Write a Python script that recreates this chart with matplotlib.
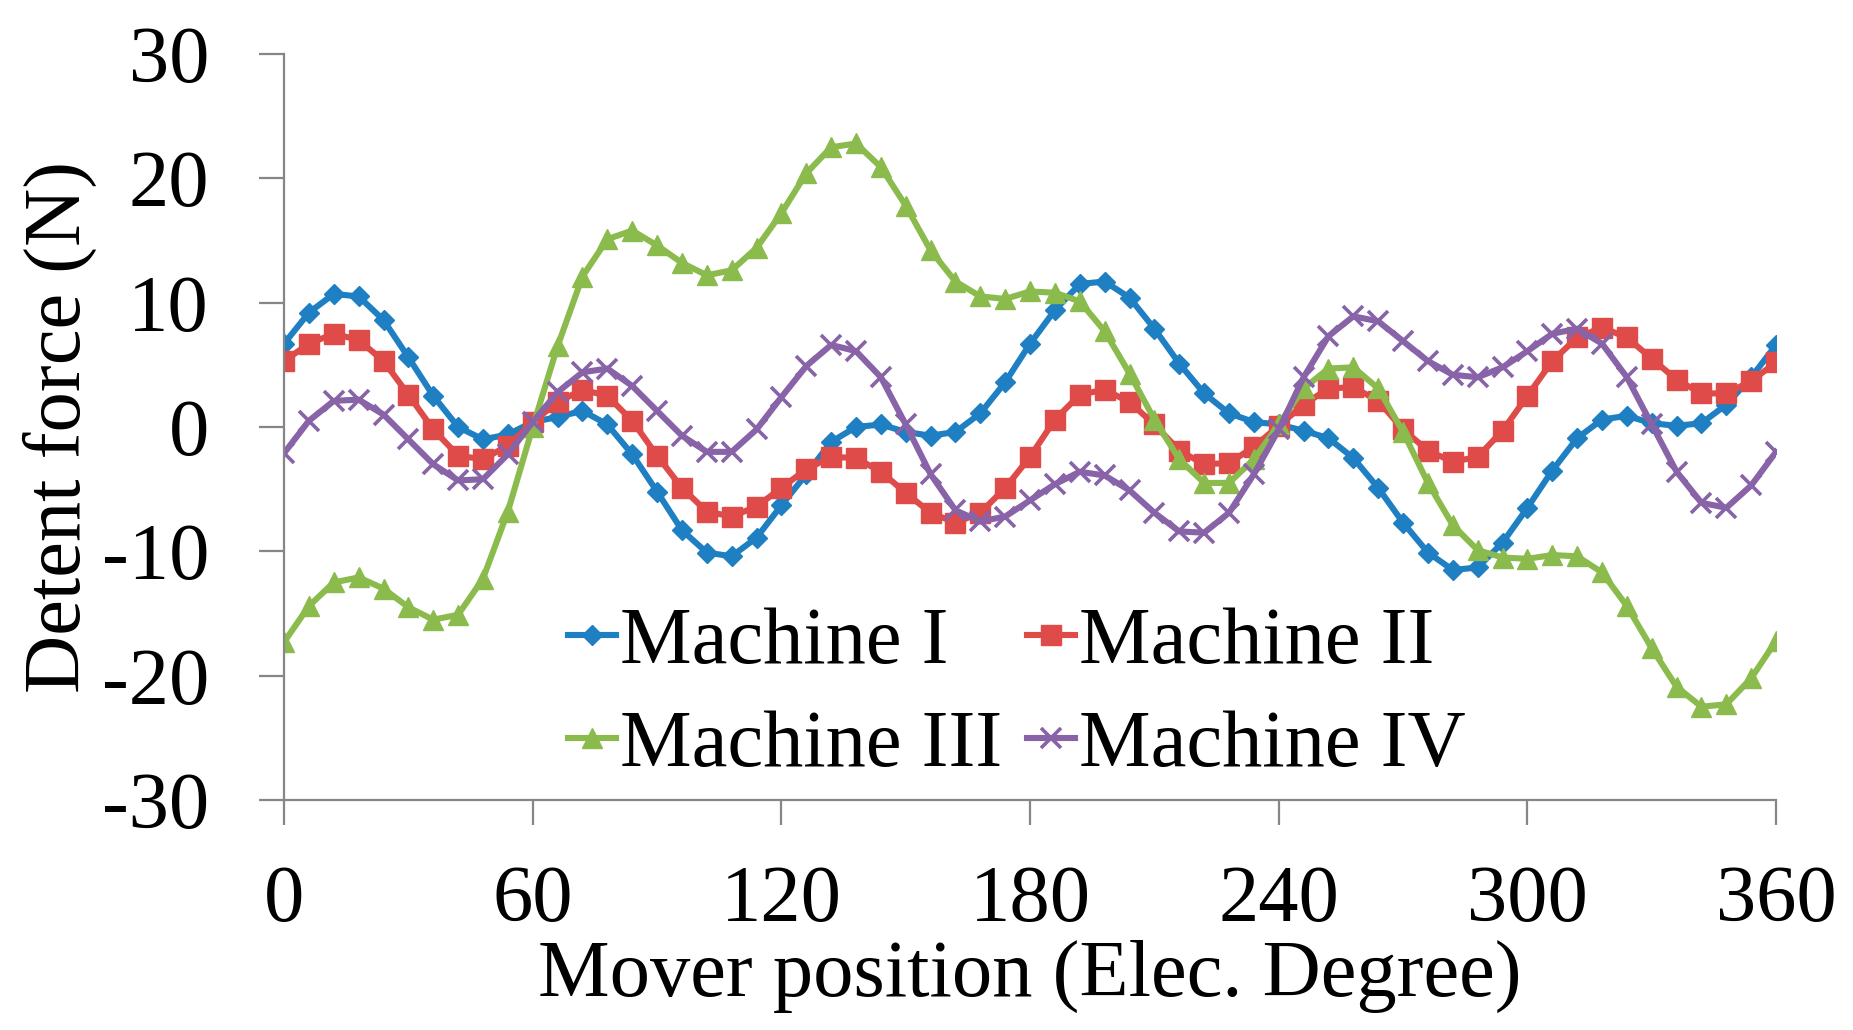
import numpy as np
import matplotlib
matplotlib.use("Agg")
import matplotlib.pyplot as plt

# posición del mover cada 6 grados eléctricos
posicion = list(range(0, 361, 6))

machine_1 = [6.7, 9.2, 10.7, 10.5, 8.6, 5.6, 2.5, 0.0, -1.0, -0.6,
             0.4, 0.8, 1.3, 0.2, -2.2, -5.2, -8.3, -10.1, -10.4, -8.9,
             -6.3, -3.8, -1.2, 0.0, 0.2, -0.4, -0.7, -0.4, 1.1, 3.6,
             6.7, 9.4, 11.5, 11.7, 10.4, 7.9, 5.1, 2.7, 1.1, 0.4,
             0.2, -0.3, -0.9, -2.5, -4.9, -7.7, -10.1, -11.5, -11.3, -9.3,
             -6.5, -3.5, -0.9, 0.6, 0.9, 0.3, 0.1, 0.3, 1.8, 4.0,
             6.6]
machine_2 = [5.3, 6.7, 7.5, 7.0, 5.3, 2.6, -0.2, -2.3, -2.6, -1.5,
             0.4, 2.0, 3.0, 2.5, 0.5, -2.3, -4.9, -6.8, -7.2, -6.4,
             -4.9, -3.4, -2.4, -2.5, -3.6, -5.3, -6.9, -7.7, -6.9, -4.9,
             -2.4, 0.6, 2.6, 3.0, 2.0, 0.2, -1.9, -3.0, -2.9, -1.6,
             0.1, 1.8, 3.1, 3.2, 2.1, -0.2, -1.9, -2.8, -2.4, -0.3,
             2.5, 5.3, 7.2, 8.0, 7.2, 5.5, 3.8, 2.7, 2.7, 3.7,
             5.2]
machine_3 = [-17.3, -14.4, -12.5, -12.1, -13.0, -14.5, -15.5, -15.1, -12.2, -6.8,
             0.0, 6.5, 12.1, 15.1, 15.8, 14.6, 13.2, 12.2, 12.6, 14.4,
             17.2, 20.4, 22.5, 22.8, 20.9, 17.8, 14.2, 11.7, 10.5, 10.3,
             10.9, 10.8, 10.1, 7.7, 4.3, 0.6, -2.6, -4.5, -4.5, -2.6,
             0.2, 3.1, 4.7, 4.8, 3.1, -0.4, -4.5, -7.9, -9.9, -10.5,
             -10.6, -10.3, -10.4, -11.7, -14.4, -17.8, -20.9, -22.5, -22.3, -20.2,
             -17.2]
machine_4 = [-2.1, 0.5, 2.1, 2.2, 1.0, -1.0, -3.0, -4.3, -4.2, -2.2,
             0.4, 2.8, 4.4, 4.7, 3.3, 1.3, -0.7, -2.0, -2.0, -0.2,
             2.4, 4.9, 6.6, 6.1, 4.0, 0.2, -3.8, -6.7, -7.6, -7.2,
             -5.9, -4.6, -3.6, -3.9, -5.1, -6.9, -8.4, -8.5, -6.9, -3.8,
             -0.2, 4.0, 7.3, 8.9, 8.5, 6.9, 5.3, 4.2, 4.0, 4.8,
             6.1, 7.5, 7.9, 6.7, 4.0, 0.2, -3.6, -6.1, -6.5, -4.7,
             -2.0]

nombres = ["Machine I", "Machine II", "Machine III", "Machine IV"]
x_ticks = [0, 60, 120, 180, 240, 300, 360]
y_ticks = [-30, -20, -10, 0, 10, 20, 30]

plt.rcParams["font.family"] = ["Liberation Serif", "DejaVu Serif"]
plt.rcParams["font.size"] = 58
plt.rcParams["axes.unicode_minus"] = False

fig = plt.figure(figsize=(18.53, 10.30), dpi=100)
ax = fig.add_axes([0.1533, 0.2233, 0.8052, 0.7243])

estilos = [
    dict(color="#1f7fc3", marker="D", ms=10),
    dict(color="#de4b49", marker="s", ms=14),
    dict(color="#8cbb4d", marker="^", ms=15),
    dict(color="#8863a8", marker="x", ms=15, mew=2.6),
]
series = [machine_1, machine_2, machine_3, machine_4]
lineas = []
for datos, nombre, st in zip(series, nombres, estilos):
    l, = ax.plot(posicion, datos, lw=4.4, label=nombre, **st)
    lineas.append(l)

ax.set_xlim(0, 360)
ax.set_ylim(-30, 30)
ax.set_xticks(x_ticks)
ax.set_yticks(y_ticks)

for lado in ["top", "right"]:
    ax.spines[lado].set_visible(False)
for lado in ["left", "bottom"]:
    ax.spines[lado].set_color("#868686")
    ax.spines[lado].set_linewidth(1.6)
ax.tick_params(axis="both", direction="out", length=18, width=1.6, color="#868686")
ax.tick_params(axis="y", pad=36)
ax.tick_params(axis="x", pad=29)

ax.set_xlabel("Mover position (Elec. Degree)", va="center")
ax.xaxis.set_label_coords(0.5, -0.236)
ax.set_ylabel("Detent force (N)", va="center")
ax.yaxis.set_label_coords(-0.150, 0.5)

# orden por filas: I, II arriba; III, IV abajo
orden = [0, 2, 1, 3]
ax.legend([lineas[i] for i in orden], [nombres[i] for i in orden],
          ncol=2, loc="upper left", bbox_to_anchor=(0.3065, 0.411),
          bbox_transform=fig.transFigure, frameon=False,
          handlelength=0.6, handletextpad=0.05, columnspacing=0.3,
          labelspacing=0.37, borderpad=0, borderaxespad=0)

plt.savefig("out.png", dpi=100)
